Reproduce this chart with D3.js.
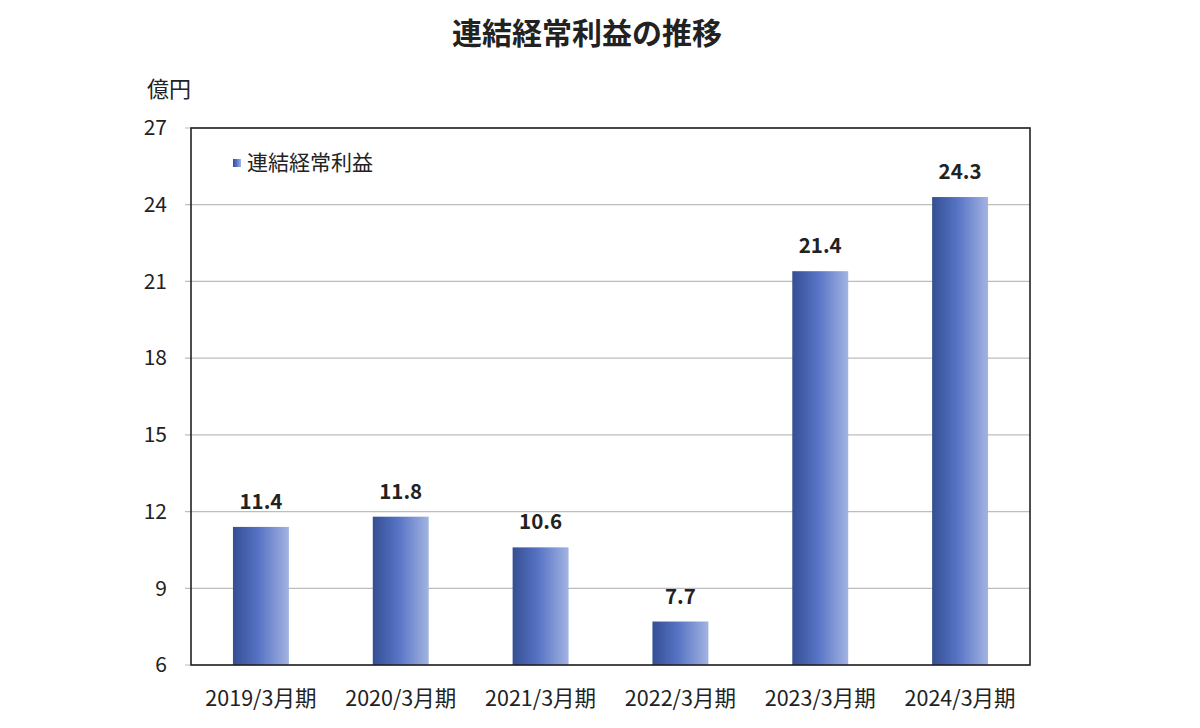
<!DOCTYPE html>
<html>
<head>
<meta charset="utf-8">
<script src="https://cdn.jsdelivr.net/npm/d3@7.9.0/dist/d3.min.js"></script>
<style>
  body { margin: 0; background: #fff; }
  svg text { font-family: "Noto Sans CJK JP", "Noto Sans", sans-serif; fill: #222; }
</style>
</head>
<body>
<svg id="chart" width="1200" height="728"></svg>
<script>
const categories = ['2019/3月期', '2020/3月期', '2021/3月期', '2022/3月期', '2023/3月期', '2024/3月期'];
const values = [11.4, 11.8, 10.6, 7.7, 21.4, 24.3];
const yTicks = [6, 9, 12, 15, 18, 21, 24, 27];
const seriesName = '連結経常利益';

const svg = d3.select('#chart');
const margin = { left: 191, right: 170, top: 128, bottom: 63 };
const width = 1200 - margin.left - margin.right;
const height = 728 - margin.top - margin.bottom;

// gradient for bars
const defs = svg.append('defs');
const grad = defs.append('linearGradient').attr('id', 'barGrad')
  .attr('x1', '0%').attr('x2', '100%').attr('y1', '0%').attr('y2', '0%');
grad.append('stop').attr('offset', '0%').attr('stop-color', '#354f93');
grad.append('stop').attr('offset', '45%').attr('stop-color', '#5673c4');
grad.append('stop').attr('offset', '100%').attr('stop-color', '#a3b3e2');

const g = svg.append('g').attr('transform', `translate(${margin.left},${margin.top})`);

const x = d3.scaleBand().domain(categories).range([0, width]).paddingInner(0.6).paddingOuter(0.3);
const y = d3.scaleLinear().domain([6, 27]).range([height, 0]);

// gridlines
g.append('g')
  .selectAll('line')
  .data(yTicks)
  .join('line')
  .attr('x1', -6)
  .attr('x2', width)
  .attr('y1', (d) => y(d))
  .attr('y2', (d) => y(d))
  .attr('stroke', '#bdbdbd')
  .attr('stroke-width', 1.2);

// y tick labels
g.append('g')
  .selectAll('text')
  .data(yTicks)
  .join('text')
  .attr('x', -24)
  .attr('y', (d) => y(d))
  .attr('dy', '0.35em')
  .attr('text-anchor', 'end')
  .attr('font-size', 21)
  .text((d) => d);

// bars
g.append('g')
  .selectAll('rect')
  .data(values)
  .join('rect')
  .attr('x', (d, i) => x(categories[i]))
  .attr('y', (d) => y(d))
  .attr('width', x.bandwidth())
  .attr('height', (d) => y(6) - y(d))
  .attr('fill', 'url(#barGrad)');

// value labels
g.append('g')
  .selectAll('text')
  .data(values)
  .join('text')
  .attr('x', (d, i) => x(categories[i]) + x.bandwidth() / 2)
  .attr('y', (d) => y(d) - 18)
  .attr('text-anchor', 'middle')
  .attr('font-size', 20.5)
  .attr('font-weight', 'bold')
  .attr('fill', '#111')
  .text((d) => d.toFixed(1));

// x labels
g.append('g')
  .selectAll('text')
  .data(categories)
  .join('text')
  .attr('x', (d) => x(d) + x.bandwidth() / 2)
  .attr('y', height + 33)
  .attr('dy', '0.35em')
  .attr('text-anchor', 'middle')
  .attr('font-size', 21.5)
  .text((d) => d);

// plot border
g.append('rect')
  .attr('x', 0).attr('y', 0)
  .attr('width', width).attr('height', height)
  .attr('fill', 'none')
  .attr('stroke', '#222')
  .attr('stroke-width', 1.6);

// legend
const legend = g.append('g').attr('transform', 'translate(42,35)');
legend.append('rect')
  .attr('x', 0).attr('y', -4).attr('width', 8).attr('height', 8)
  .attr('fill', 'url(#barGrad)');
legend.append('text')
  .attr('x', 14).attr('y', 0).attr('dy', '0.35em')
  .attr('font-size', 21)
  .text(seriesName);

// unit
svg.append('text')
  .attr('x', 147).attr('y', 89).attr('dy', '0.35em')
  .attr('font-size', 22)
  .attr('fill', '#444')
  .text('億円');

// title
svg.append('text')
  .attr('x', 587).attr('y', 33).attr('dy', '0.35em')
  .attr('text-anchor', 'middle')
  .attr('font-size', 30)
  .attr('font-weight', 'bold')
  .attr('fill', '#111')
  .text('連結経常利益の推移');
</script>
</body>
</html>
